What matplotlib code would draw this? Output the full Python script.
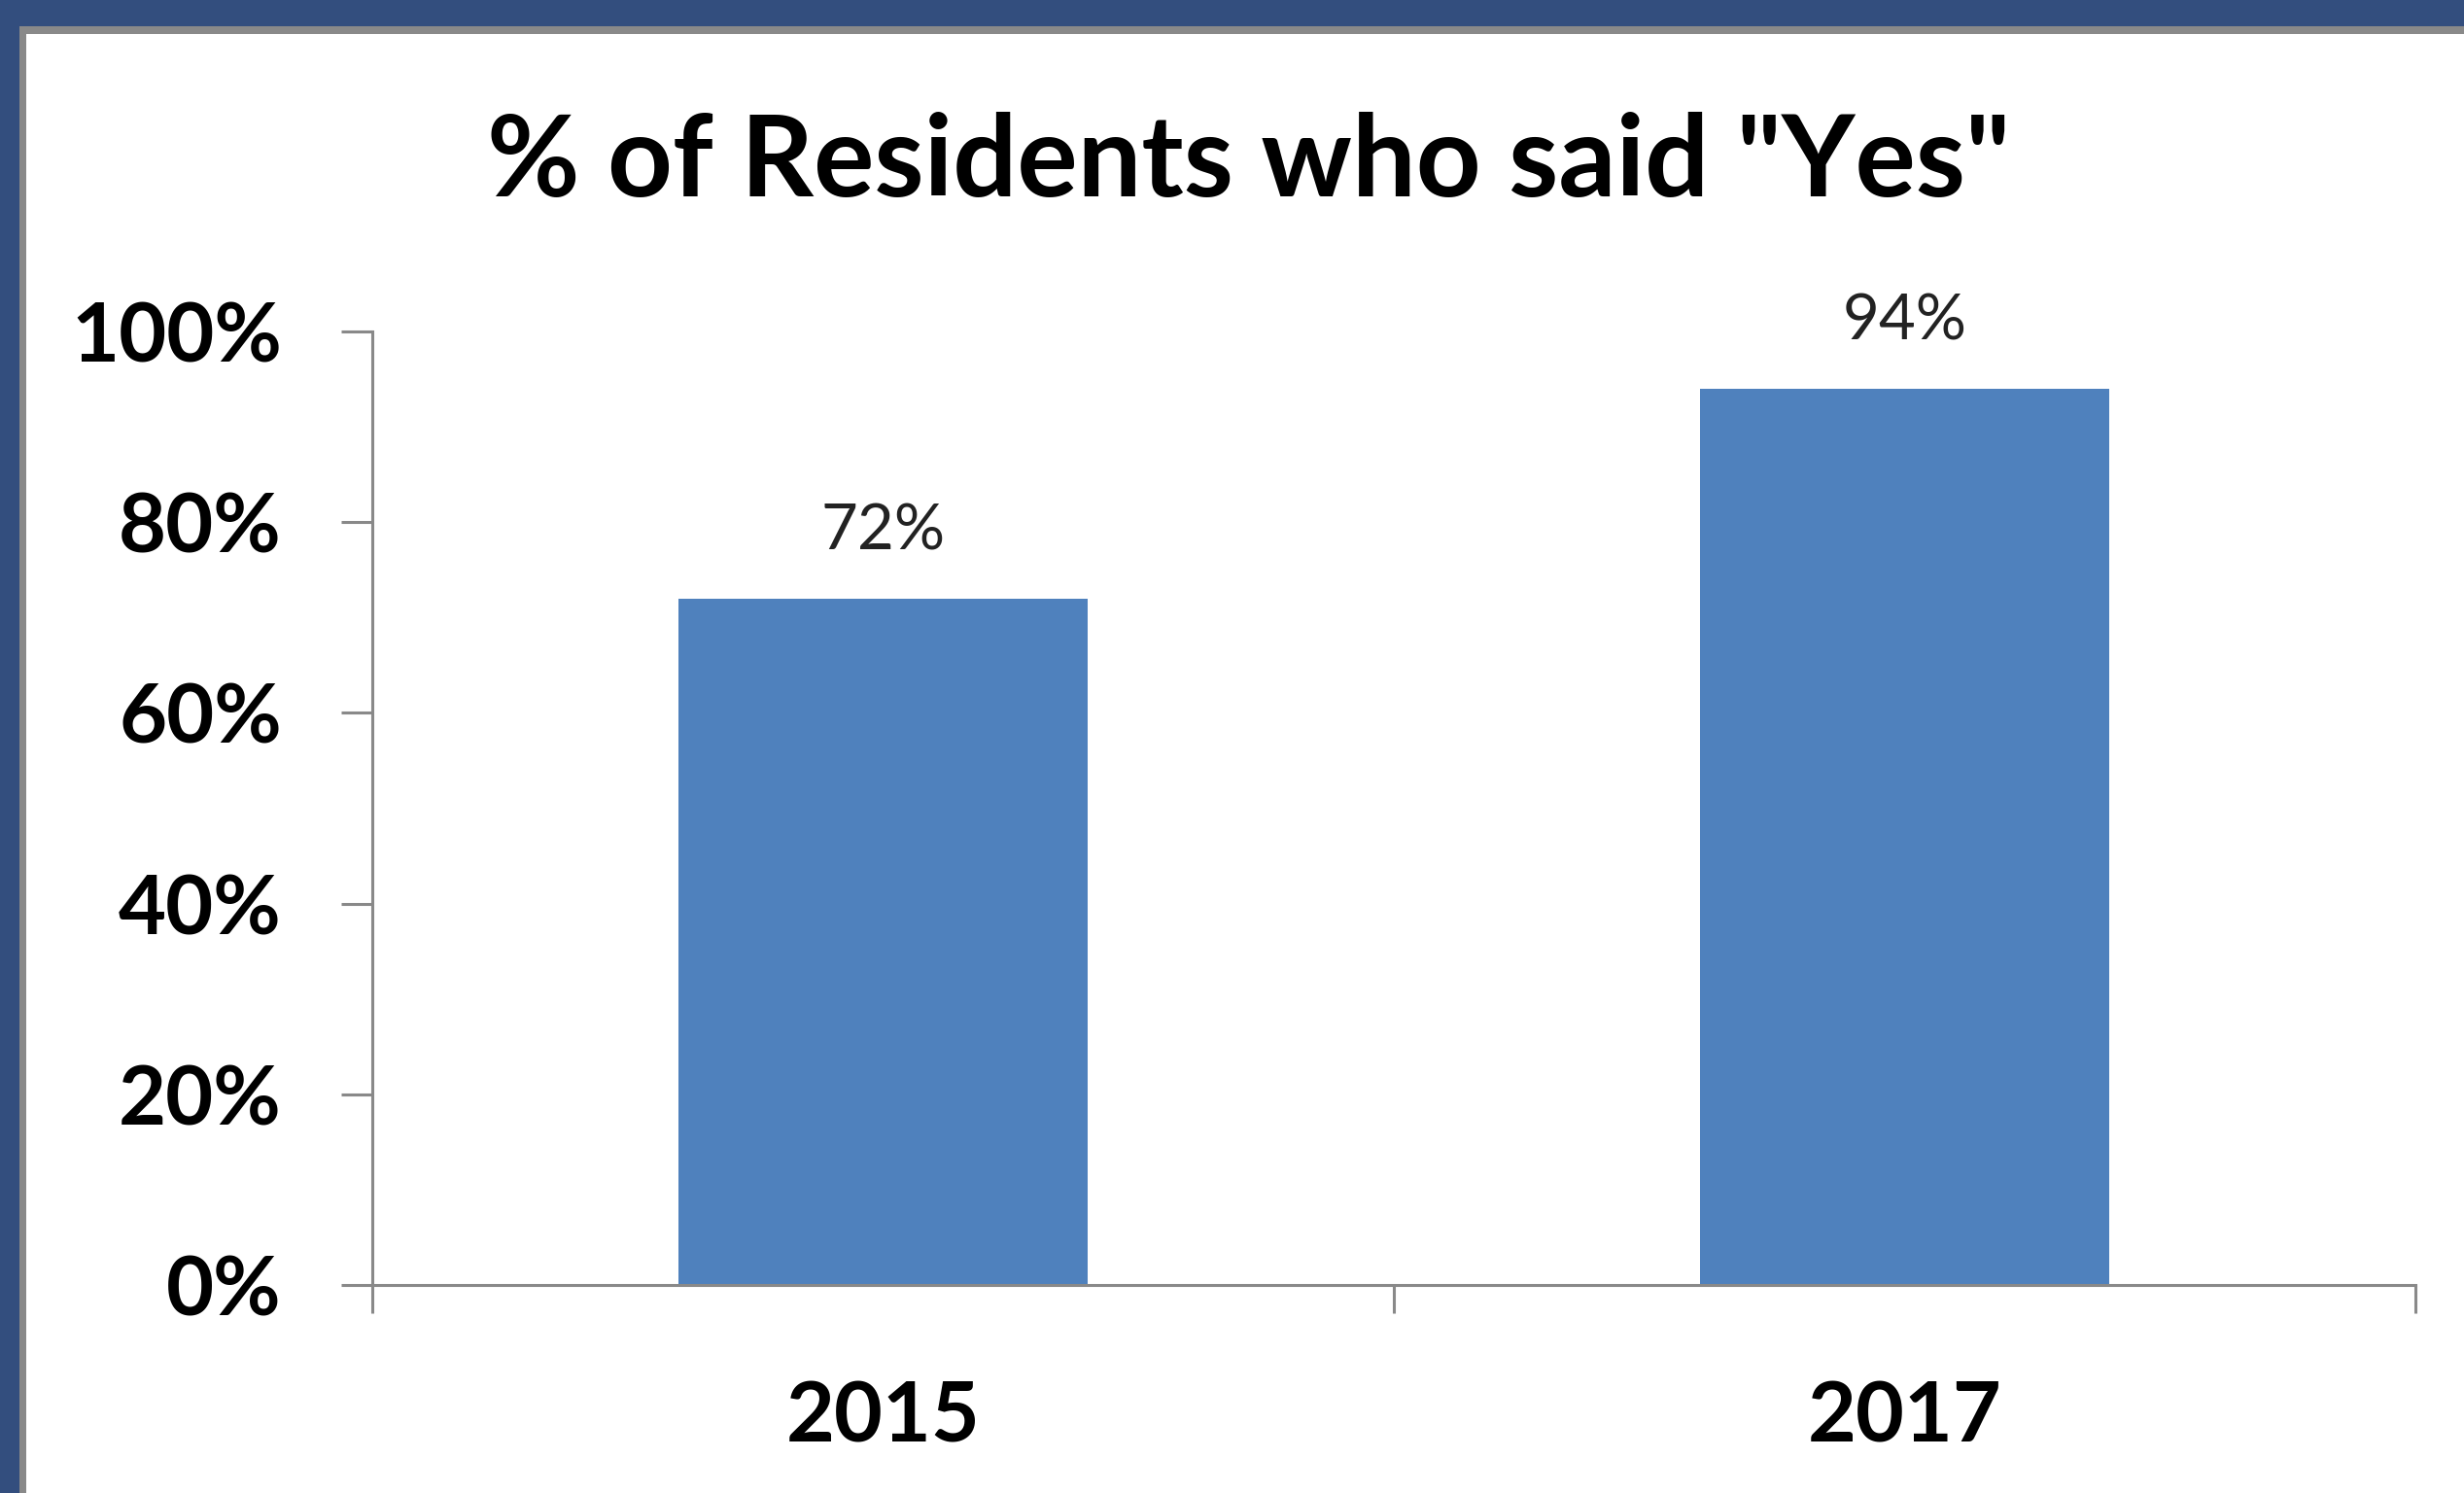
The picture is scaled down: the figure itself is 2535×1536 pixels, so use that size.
import matplotlib
matplotlib.use('Agg')
import matplotlib.pyplot as plt
from matplotlib.patches import Rectangle
from matplotlib.ticker import FuncFormatter

# survey results
years = ['2015', '2017']
pct_yes = [72, 94]
y_ticks = [0, 20, 40, 60, 80, 100]

plt.rcParams['font.family'] = ['Lato', 'DejaVu Sans']

W, H = 2535, 1536
fig = plt.figure(figsize=(W / 100, H / 100), dpi=100)
fig.patch.set_facecolor('white')

# slide frame: blue band and gray inner edge on top and left
blue = '#334E7E'
gray = '#898989'
fig.patches.append(Rectangle((0, 1 - 27 / H), 1, 27 / H, transform=fig.transFigure,
                             facecolor=blue, edgecolor='none', zorder=0))
fig.patches.append(Rectangle((0, 0), 20 / W, 1, transform=fig.transFigure,
                             facecolor=blue, edgecolor='none', zorder=0))
fig.patches.append(Rectangle((20 / W, 1 - 35 / H), 1, 8 / H, transform=fig.transFigure,
                             facecolor=gray, edgecolor='none', zorder=0))
fig.patches.append(Rectangle((20 / W, 0), 7 / W, 1 - 27 / H, transform=fig.transFigure,
                             facecolor=gray, edgecolor='none', zorder=0))

ax = fig.add_axes([383 / W, 1 - 1322 / H, (2485 - 383) / W, (1322 - 341) / H])

x = list(range(len(years)))
bars = ax.bar(x, pct_yes, width=0.40, color='#4F81BD', zorder=2)

for b, v in zip(bars, pct_yes):
    ax.annotate(f'{v}%', (b.get_x() + b.get_width() / 2, v), xytext=(0, 28),
                textcoords='offset points', ha='center', va='bottom',
                fontsize=47, color='#222222')

ax.set_xlim(-0.5, len(years) - 0.5)
ax.set_ylim(0, 100)
ax.set_yticks(y_ticks)
ax.yaxis.set_major_formatter(FuncFormatter(lambda v, p: f'{v:.0f}%'))
ax.set_xticks([-0.5, 0.5, 1.5])
ax.set_xticks(x, minor=True)
ax.set_xticklabels([])
ax.set_xticklabels(years, minor=True)

for s in ['top', 'right']:
    ax.spines[s].set_visible(False)
for s in ['left', 'bottom']:
    ax.spines[s].set_color(gray)
    ax.spines[s].set_linewidth(2.2)

ax.tick_params(axis='y', which='major', length=23, width=2.2, color=gray,
               labelsize=61, pad=44)
ax.tick_params(axis='x', which='major', length=21, width=2.2, color=gray)
ax.tick_params(axis='x', which='minor', length=0, labelsize=62, pad=70)
for lab in ax.get_yticklabels() + ax.get_xticklabels(minor=True):
    lab.set_fontweight('bold')

fig.text(1285 / W, 1 - 202 / H, '% of Residents who said "Yes"', ha='center',
         va='baseline', fontsize=84, fontweight='bold')

fig.savefig('out.png', dpi=100)
